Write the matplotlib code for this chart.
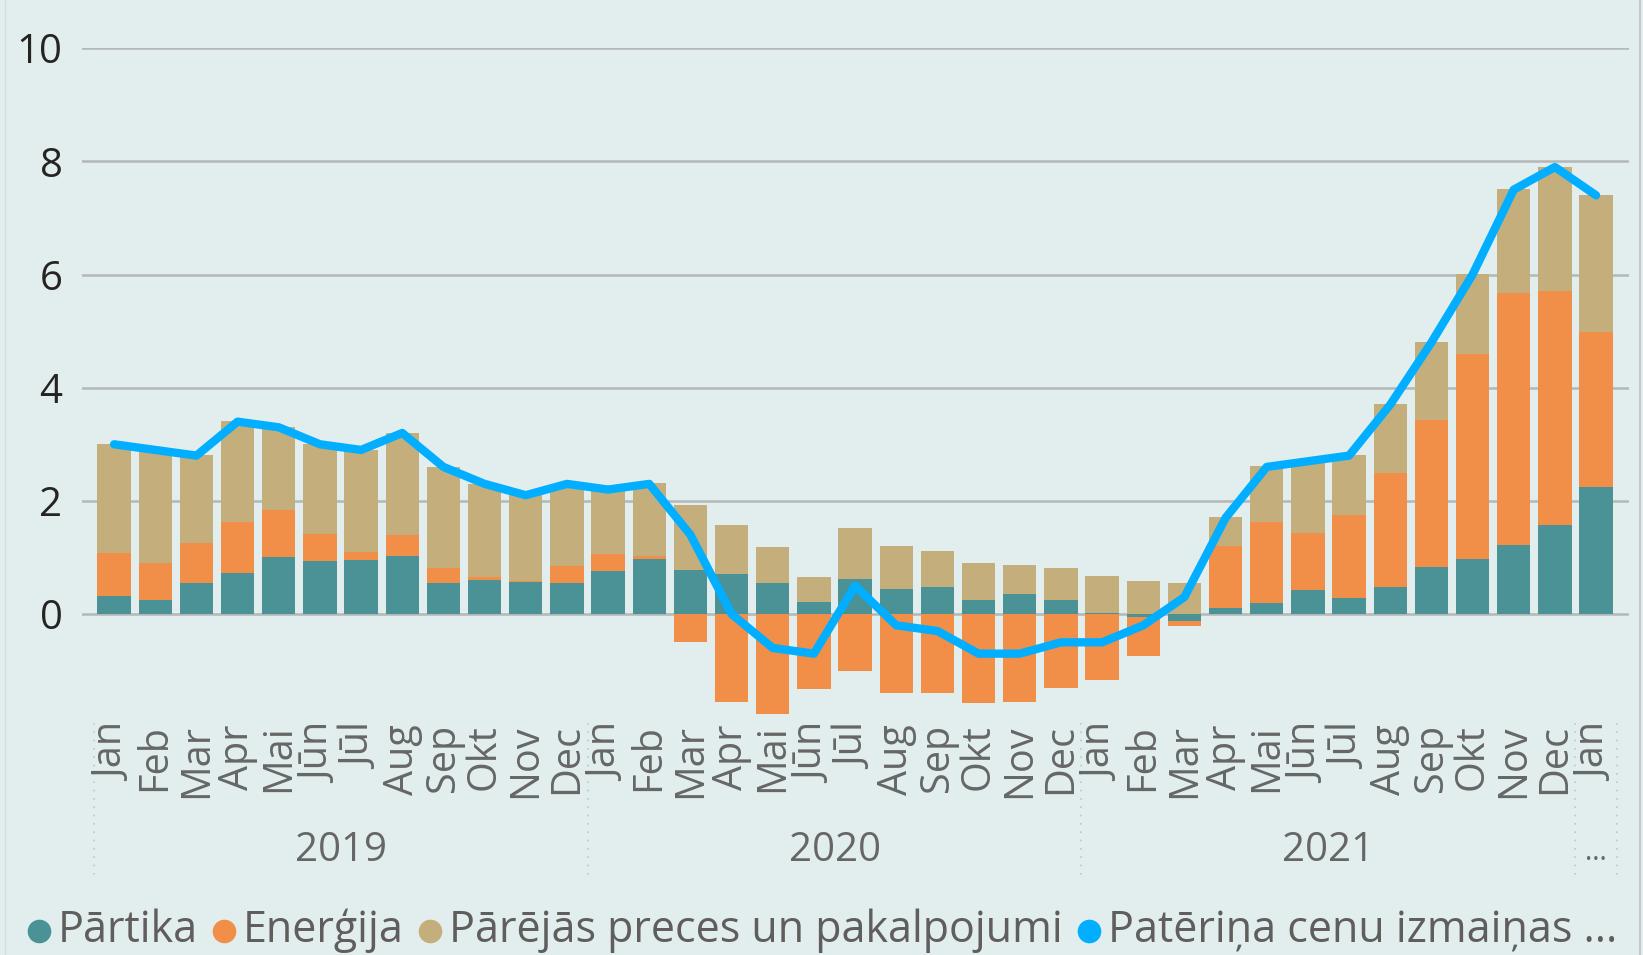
import matplotlib
matplotlib.use("Agg")
import matplotlib.pyplot as plt
import matplotlib.transforms as mtransforms
from matplotlib.lines import Line2D
import numpy as np

plt.rcParams['font.family'] = ['Open Sans', 'DejaVu Sans']

# ---------------------------------------------------------------------------
# Dati
menesi = ['Jan', 'Feb', 'Mar', 'Apr', 'Mai', 'Jūn', 'Jūl', 'Aug', 'Sep', 'Okt', 'Nov', 'Dec'] * 3 + ['Jan']
gadi = ['2019', '2020', '2021', '...']

partika = [0.32, 0.24, 0.54, 0.73, 1.00, 0.94, 0.96, 1.03, 0.55, 0.60, 0.57, 0.55,
           0.76, 0.97, 0.77, 0.70, 0.55, 0.21, 0.62, 0.44, 0.48, 0.25, 0.36, 0.25,
           0.01, -0.06, -0.12, 0.11, 0.20, 0.42, 0.29, 0.48, 0.84, 0.97, 1.22, 1.58,
           2.25]
energija = [0.76, 0.67, 0.72, 0.90, 0.84, 0.48, 0.14, 0.37, 0.27, 0.06, 0.02, 0.30,
            0.30, 0.06, -0.50, -1.55, -1.76, -1.33, -1.00, -1.39, -1.39, -1.58, -1.55, -1.30,
            -1.16, -0.69, -0.09, 1.09, 1.43, 1.02, 1.46, 2.02, 2.59, 3.62, 4.45, 4.13,
            2.74]
parejas = [1.93, 1.96, 1.55, 1.79, 1.47, 1.58, 1.80, 1.80, 1.78, 1.64, 1.51, 1.45,
           1.14, 1.29, 1.16, 0.88, 0.64, 0.45, 0.90, 0.77, 0.64, 0.66, 0.51, 0.57,
           0.67, 0.59, 0.54, 0.52, 0.98, 1.24, 1.06, 1.21, 1.38, 1.42, 1.85, 2.19,
           2.42]
pci = [3.0, 2.9, 2.8, 3.4, 3.3, 3.0, 2.9, 3.2, 2.6, 2.3, 2.1, 2.3,
       2.2, 2.3, 1.4, 0.0, -0.6, -0.7, 0.5, -0.2, -0.3, -0.7, -0.7, -0.5,
       -0.5, -0.2, 0.3, 1.7, 2.6, 2.7, 2.8, 3.7, 4.8, 6.0, 7.5, 7.9,
       7.4]

nosaukumi = ['Pārtika', 'Enerģija', 'Pārējās preces un pakalpojumi', 'Patēriņa cenu izmaiņas ...']
krasas = ['#4A9295', '#F18F49', '#C4AE7B', '#01AEFF']

# ---------------------------------------------------------------------------
# Zīmējums
W, H = 1643, 955
fon = '#E2EEEE'
fig = plt.figure(figsize=(W / 100, H / 100), dpi=100, facecolor=fon)
ax = fig.add_axes([82 / W, (H - 727.2) / H, (1629 - 82) / W, (727.2 - 48.2) / H])
ax.set_facecolor(fon)

x = np.arange(len(menesi))
poz = np.zeros(len(x))
neg = np.zeros(len(x))
for vert, kr in zip([partika, energija, parejas], krasas[:3]):
    vert = np.array(vert)
    bazes = np.where(vert >= 0, poz, neg)
    ax.bar(x, vert, bottom=bazes, width=0.81, color=kr, zorder=2)
    poz = np.where(vert >= 0, poz + vert, poz)
    neg = np.where(vert < 0, neg + vert, neg)

ax.plot(x, pci, color=krasas[3], lw=6, solid_capstyle='round', solid_joinstyle='round', zorder=3)

ax.set_xlim(-0.78, 36.8)
ax.set_ylim(-2, 10)
ax.set_yticks([0, 2, 4, 6, 8, 10])
ax.yaxis.grid(True, color='#B3B7B7', lw=1.8, zorder=0)
ax.set_axisbelow(True)
for s in ax.spines.values():
    s.set_visible(False)
ax.tick_params(axis='y', length=0, pad=14, labelsize=29, labelcolor='#252423')
ax.set_xticks([])

# mēnešu un gadu etiķetes
tr = mtransforms.blended_transform_factory(ax.transData, fig.transFigure)
for i, m in enumerate(menesi):
    ax.text(i, (H - 724) / H, m, transform=tr, rotation=90, ha='center', va='top',
            fontsize=28.5, color='#666666')
for i, g in enumerate(gadi[:3]):
    ax.text(12 * i + 5.5, (H - 851) / H, g, transform=tr, ha='center', va='center',
            fontsize=29, color='#666666')
ax.text(36, (H - 853) / H, gadi[3], transform=tr, ha='center', va='center',
        fontsize=20, color='#666666')
for sx in [-0.5, 11.5, 23.5, 35.5, 36.5]:
    ax.add_line(Line2D([sx, sx], [(H - 723) / H, (H - 880) / H], transform=tr,
                       color='#C5C5C5', lw=1.2, ls=(0, (1, 4)), clip_on=False))

# rāmja līnijas
fig.add_artist(Line2D([1640 / W, 1640 / W], [0, 1], color='#C8C8C8', lw=1.5))
fig.add_artist(Line2D([5 / W, 5 / W], [0, 1], color='#D6DCDC', lw=1))

# leģenda
fig.canvas.draw()
rend = fig.canvas.get_renderer()
ly = (H - 931) / H
px = 28
for nos, kr in zip(nosaukumi, krasas):
    fig.add_artist(Line2D([(px + 11) / W], [ly], marker='o', markersize=16, color=kr, lw=0))
    t = fig.text((px + 30) / W, ly, nos, ha='left', va='center', fontsize=31, color='#605E5C')
    bb = t.get_window_extent(renderer=rend)
    px = bb.x1 + 15

fig.savefig('out.png', dpi=100, facecolor=fon)
